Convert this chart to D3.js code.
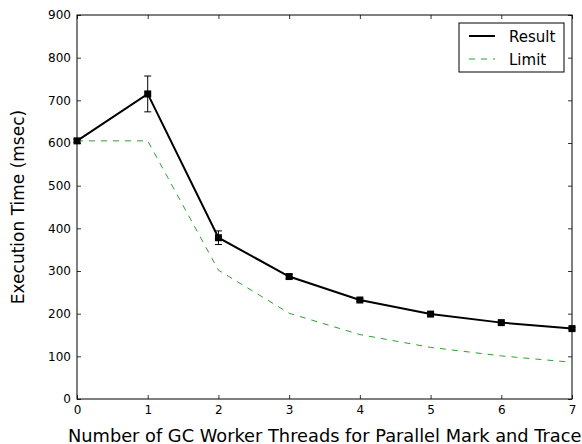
<!DOCTYPE html>
<html>
<head>
<meta charset="utf-8">
<script src="https://cdn.jsdelivr.net/npm/d3@7"></script>
<style>
  body { margin: 0; background: #fff; }
  svg { display: block; font-family: "DejaVu Sans", sans-serif; }
</style>
</head>
<body>
<div id="chart"></div>
<script>
const width = 582;
const height = 444;

// data
const threads = [0, 1, 2, 3, 4, 5, 6, 7];
const resultTimes = [605, 715, 378, 287, 232, 199, 179, 165];
const resultErr = [4, 42, 16, 5, 3, 3, 3, 3];
const limitTimes = [605, 605, 302, 201, 151, 121, 101, 86];
const yTicks = [0, 100, 200, 300, 400, 500, 600, 700, 800, 900];

const margin = { top: 15, right: 10, bottom: 45, left: 77 };
const plot = {
    left: margin.left,
    right: width - margin.right,
    top: margin.top,
    bottom: height - margin.bottom
};

const svg = d3.select("#chart")
    .append("svg")
    .attr("width", width)
    .attr("height", height);

const xScale = d3.scaleLinear().domain([0, 7]).range([plot.left, plot.right]);
const yScale = d3.scaleLinear().domain([0, 900]).range([plot.bottom, plot.top]);

// axes with inward ticks, matplotlib style
const xAxis = d3.axisBottom(xScale).tickValues(threads).tickSize(-4).tickPadding(6).tickFormat(d3.format("d"));
const yAxis = d3.axisLeft(yScale).tickValues(yTicks).tickSize(-4).tickPadding(6);

svg.append("g")
    .attr("transform", `translate(0, ${plot.bottom})`)
    .call(xAxis);
svg.append("g")
    .attr("transform", `translate(${plot.left}, 0)`)
    .call(yAxis);
svg.append("g")
    .attr("transform", `translate(0, ${plot.top})`)
    .call(d3.axisTop(xScale).tickValues(threads).tickSize(-4).tickFormat(""));
svg.append("g")
    .attr("transform", `translate(${plot.right}, 0)`)
    .call(d3.axisRight(yScale).tickValues(yTicks).tickSize(-4).tickFormat(""));

svg.selectAll(".domain").remove();
svg.selectAll(".tick line").attr("stroke", "#000").attr("stroke-width", 0.8);
svg.selectAll(".tick text")
    .attr("fill", "#000")
    .style("font-size", "12px")
    .style("font-family", "DejaVu Sans");

svg.append("rect")
    .attr("x", plot.left)
    .attr("y", plot.top)
    .attr("width", plot.right - plot.left)
    .attr("height", plot.bottom - plot.top)
    .attr("fill", "none")
    .attr("stroke", "#000")
    .attr("stroke-width", 1);

svg.append("clipPath").attr("id", "plot-clip")
    .append("rect")
    .attr("x", plot.left - 6)
    .attr("y", plot.top)
    .attr("width", plot.right - plot.left + 12)
    .attr("height", plot.bottom - plot.top);

const g = svg.append("g").attr("clip-path", "url(#plot-clip)");

const line = d3.line()
    .x((d, i) => xScale(threads[i]))
    .y((d) => yScale(d));

// limit
g.append("path")
    .datum(limitTimes)
    .attr("d", line)
    .attr("fill", "none")
    .attr("stroke", "#2ca02c")
    .attr("stroke-width", 1)
    .attr("stroke-dasharray", "6,6");

// result
g.append("path")
    .datum(resultTimes)
    .attr("d", line)
    .attr("fill", "none")
    .attr("stroke", "#000")
    .attr("stroke-width", 2);

// error bars
const eb = g.append("g").attr("stroke", "#000").attr("stroke-width", 1);
resultTimes.forEach((v, i) => {
    const x = xScale(threads[i]);
    const y0 = yScale(v - resultErr[i]);
    const y1 = yScale(v + resultErr[i]);
    eb.append("line").attr("x1", x).attr("x2", x).attr("y1", y0).attr("y2", y1);
    eb.append("line").attr("x1", x - 3.5).attr("x2", x + 3.5).attr("y1", y0).attr("y2", y0);
    eb.append("line").attr("x1", x - 3.5).attr("x2", x + 3.5).attr("y1", y1).attr("y2", y1);
});

g.selectAll("rect.marker")
    .data(resultTimes)
    .join("rect")
    .attr("class", "marker")
    .attr("x", (d, i) => xScale(threads[i]) - 3.5)
    .attr("y", (d) => yScale(d) - 3.5)
    .attr("width", 7)
    .attr("height", 7)
    .attr("fill", "#000");

// axis titles
svg.append("text")
    .attr("transform", `translate(24, ${(plot.top + plot.bottom) / 2}) rotate(-90)`)
    .attr("text-anchor", "middle")
    .style("font-size", "17px")
    .text("Execution Time (msec)");

// x title runs to the right edge, as in the original
svg.append("text")
    .attr("x", 68)
    .attr("y", 442)
    .style("font-size", "17.8px")
    .text("Number of GC Worker Threads for Parallel Mark and Trace");

// legend
const legend = svg.append("g").attr("transform", "translate(459, 23)");
legend.append("rect")
    .attr("width", 105)
    .attr("height", 49)
    .attr("fill", "#fff")
    .attr("stroke", "#000")
    .attr("stroke-width", 1);

const legendItems = [
    { label: "Result", color: "#000", dash: null, w: 2 },
    { label: "Limit", color: "#2ca02c", dash: "6,6", w: 1 }
];
legendItems.forEach((d, i) => {
    const y = 13 + i * 23;
    legend.append("line")
        .attr("x1", 10).attr("x2", 36)
        .attr("y1", y).attr("y2", y)
        .attr("stroke", d.color)
        .attr("stroke-width", d.w)
        .attr("stroke-dasharray", d.dash);
    legend.append("text")
        .attr("x", 50)
        .attr("y", y + 5.5)
        .style("font-size", "15px")
        .text(d.label);
});
</script>
</body>
</html>
